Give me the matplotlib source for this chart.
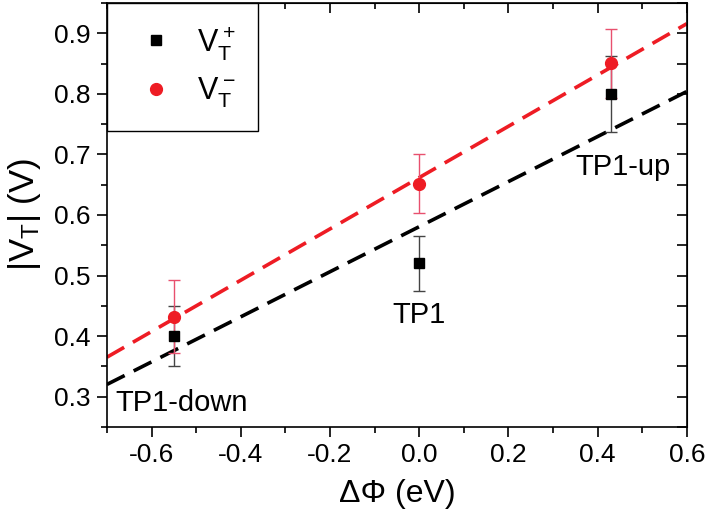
import matplotlib
matplotlib.use("Agg")
import matplotlib.pyplot as plt
from matplotlib.ticker import MultipleLocator

plt.rcParams["font.family"] = ["Liberation Sans", "DejaVu Sans"]
plt.rcParams["mathtext.fontset"] = "custom"
plt.rcParams["mathtext.rm"] = "Liberation Sans"
plt.rcParams["mathtext.it"] = "Liberation Sans"
plt.rcParams["mathtext.bf"] = "Liberation Sans:bold"

# data
dphi = [-0.55, 0.0, 0.43]
vt_plus = [0.40, 0.52, 0.80]
vt_plus_err = [0.05, 0.046, 0.063]
vt_minus = [0.432, 0.652, 0.851]
vt_minus_err = [0.06, 0.049, 0.057]

# linear fits (end points across the axis range)
fit_x = [-0.7, 0.6]
fit_plus = [0.32, 0.804]
fit_minus = [0.365, 0.916]

labels = ["TP1-down", "TP1", "TP1-up"]
label_x = [-0.68, 0.0, 0.456]
label_y = [0.29, 0.435, 0.68]

fig = plt.figure(figsize=(7.08, 5.25), dpi=100)
ax = fig.add_axes([0.151, 0.187, 0.819, 0.807])

ax.plot(fit_x, fit_plus, color="black", lw=2.6, ls=(0, (5.5, 2.8)), zorder=2)
ax.plot(fit_x, fit_minus, color="#ee1c24", lw=2.6, ls=(0, (5.5, 2.8)), zorder=2)

ax.errorbar(dphi, vt_plus, yerr=vt_plus_err, fmt="none", ecolor="#444444",
            elinewidth=1.0, capsize=4, capthick=1.0, zorder=3)
ax.errorbar(dphi, vt_minus, yerr=vt_minus_err, fmt="none", ecolor="#e8506e",
            elinewidth=1.0, capsize=4, capthick=1.0, zorder=3)

ax.plot(dphi, vt_plus, "s", color="black", ms=7.5, ls="none", zorder=4,
        label=r"$V_T^+$")
ax.plot(dphi, vt_minus, "o", color="#ee1c24", ms=8.5, ls="none", zorder=4,
        label=r"$V_T^-$")

for t, x, y in zip(labels, label_x, label_y):
    ha = "left" if t == "TP1-down" else "center"
    ax.text(x, y, t, fontsize=21, ha=ha, va="center")

ax.set_xlim(-0.7, 0.6)
ax.set_ylim(0.25, 0.95)
ax.xaxis.set_minor_locator(MultipleLocator(0.1))
ax.yaxis.set_major_locator(MultipleLocator(0.1))
ax.yaxis.set_minor_locator(MultipleLocator(0.05))
ax.set_xticks([-0.6, -0.4, -0.2, 0.0, 0.2, 0.4, 0.6])
ax.set_xticklabels(["-0.6", "-0.4", "-0.2", "0.0", "0.2", "0.4", "0.6"])

for s in ax.spines.values():
    s.set_linewidth(1.2)
ax.tick_params(which="both", direction="out", width=1.2, labelsize=19,
               top=False, right=False, pad=5)
ax.tick_params(which="major", length=7)
ax.tick_params(which="minor", length=4)

# mirrored inward ticks on top and right
sec_x = ax.secondary_xaxis("top")
sec_x.set_xticks([-0.6, -0.4, -0.2, 0.0, 0.2, 0.4, 0.6])
sec_x.xaxis.set_minor_locator(MultipleLocator(0.1))
sec_x.tick_params(which="both", direction="in", width=1.2, labeltop=False)
sec_x.tick_params(which="major", length=7)
sec_x.tick_params(which="minor", length=4)
sec_y = ax.secondary_yaxis("right")
sec_y.yaxis.set_major_locator(MultipleLocator(0.1))
sec_y.yaxis.set_minor_locator(MultipleLocator(0.05))
sec_y.tick_params(which="both", direction="in", width=1.2, labelright=False)
sec_y.tick_params(which="major", length=7)
sec_y.tick_params(which="minor", length=7)

ax.set_xlabel("ΔΦ (eV)", fontsize=23, labelpad=8)
ax.set_ylabel(r"$|V_T|$ (V)", fontsize=25, labelpad=8)

leg = ax.legend(loc="upper left", bbox_to_anchor=(0, 1), borderaxespad=0,
                fontsize=22, fancybox=False, edgecolor="black", framealpha=1,
                handletextpad=0.45, borderpad=0.7, labelspacing=0.45,
                handlelength=1.8)
leg.get_frame().set_linewidth(1.0)

fig.savefig("out.png", dpi=100)
